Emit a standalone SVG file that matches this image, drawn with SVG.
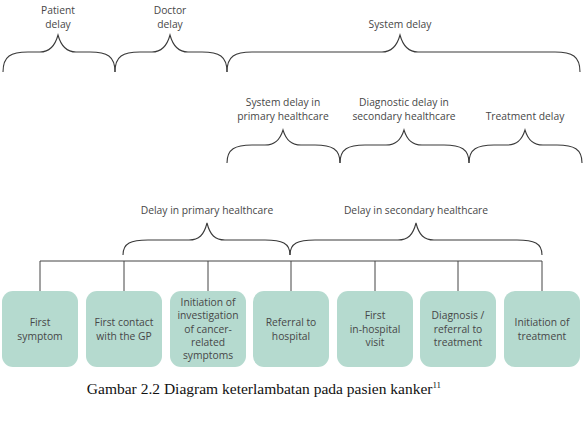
<svg xmlns="http://www.w3.org/2000/svg" width="584" height="444" viewBox="0 0 584 444">
<style>
.lbl{font-family:"Open Sans","DejaVu Sans",sans-serif;font-size:10.3px;fill:#474747;text-anchor:middle}
.brace{fill:none;stroke:#3a3a3a;stroke-width:1.1}
.conn{fill:none;stroke:#444;stroke-width:1}
.box{fill:#b5dacf}
.cap{font-family:"Liberation Serif","Times New Roman",serif;font-size:15.5px;fill:#111;text-anchor:middle}
</style>
<rect width="584" height="444" fill="#fff"/>
<g id="braces">
<path class="brace" d="M3,72 C3,56 11,52 28,52 L40,52 C50,52 55,46 58,35 C61,46 66,52 76,52 L90,52 C107,52 115,56 115,72"/>
<path class="brace" d="M115,72 C115,56 123,52 140,52 L152,52 C162,52 167,46 170,35 C173,46 178,52 188,52 L202,52 C219,52 227,56 227,72"/>
<path class="brace" d="M227,72 C227,56 235,52 252,52 L382,52 C392,52 397,46 400,35 C403,46 408,52 418,52 L555,52 C572,52 580,56 580,72"/>
<path class="brace" d="M227,163 C227,149 235,145 252,145 L265,145 C275,145 280,140 283,130 C286,140 291,145 301,145 L315,145 C332,145 340,149 340,163"/>
<path class="brace" d="M340,163 C340,149 348,145 365,145 L386,145 C396,145 401,140 404,130 C407,140 412,145 422,145 L444,145 C461,145 469,149 469,163"/>
<path class="brace" d="M469,163 C469,149 477,145 494,145 L507,145 C517,145 522,140 525,130 C528,140 533,145 543,145 L557,145 C574,145 582,149 582,163"/>
<path class="brace" d="M123,255 C123,243 131,240 148,240 L189,240 C199,240 204,235 207,223 C210,235 215,240 225,240 L265,240 C282,240 290,243 290,255"/>
<path class="brace" d="M290,255 C290,243 298,240 315,240 L398,240 C408,240 413,235 416,223 C419,235 424,240 434,240 L517,240 C534,240 542,243 542,255"/>
</g>
<g id="brace-labels">
<text class="lbl" x="58" y="14">Patient</text>
<text class="lbl" x="58" y="28">delay</text>
<text class="lbl" x="170" y="14">Doctor</text>
<text class="lbl" x="170" y="28">delay</text>
<text class="lbl" x="400" y="28">System delay</text>
<text class="lbl" x="283" y="106">System delay in</text>
<text class="lbl" x="283" y="120">primary healthcare</text>
<text class="lbl" x="404" y="106">Diagnostic delay in</text>
<text class="lbl" x="404" y="120">secondary healthcare</text>
<text class="lbl" x="525" y="120">Treatment delay</text>
<text class="lbl" x="207" y="214">Delay in primary healthcare</text>
<text class="lbl" x="416" y="214">Delay in secondary healthcare</text>
</g>
<g id="connectors">
<path class="conn" d="M40,261 H542 M40,261 V291 M124,261 V291 M208,261 V291 M291,261 V291 M375,261 V291 M458,261 V291 M542,261 V291"/>
</g>
<g id="node1"><rect class="box" x="2" y="291" width="76" height="76" rx="11"/>
<text class="lbl" x="40" y="326">First</text><text class="lbl" x="40" y="340">symptom</text></g>
<g id="node2"><rect class="box" x="86" y="291" width="76" height="76" rx="11"/>
<text class="lbl" x="124" y="326">First contact</text><text class="lbl" x="124" y="340">with the GP</text></g>
<g id="node3"><rect class="box" x="170" y="291" width="76" height="76" rx="11"/>
<text class="lbl" x="208" y="306">Initiation of</text><text class="lbl" x="208" y="319">investigation</text><text class="lbl" x="208" y="333">of cancer-</text><text class="lbl" x="208" y="346">related</text><text class="lbl" x="208" y="359">symptoms</text></g>
<g id="node4"><rect class="box" x="253" y="291" width="76" height="76" rx="11"/>
<text class="lbl" x="291" y="326">Referral to</text><text class="lbl" x="291" y="340">hospital</text></g>
<g id="node5"><rect class="box" x="337" y="291" width="76" height="76" rx="11"/>
<text class="lbl" x="375" y="319">First</text><text class="lbl" x="375" y="333">in-hospital</text><text class="lbl" x="375" y="346">visit</text></g>
<g id="node6"><rect class="box" x="420" y="291" width="76" height="76" rx="11"/>
<text class="lbl" x="458" y="319">Diagnosis /</text><text class="lbl" x="458" y="333">referral to</text><text class="lbl" x="458" y="346">treatment</text></g>
<g id="node7"><rect class="box" x="504" y="291" width="76" height="76" rx="11"/>
<text class="lbl" x="542" y="326">Initiation of</text><text class="lbl" x="542" y="340">treatment</text></g>
<text class="cap" x="264" y="394">Gambar 2.2 Diagram keterlambatan pada pasien kanker<tspan font-size="9" dy="-6">11</tspan></text>
</svg>
